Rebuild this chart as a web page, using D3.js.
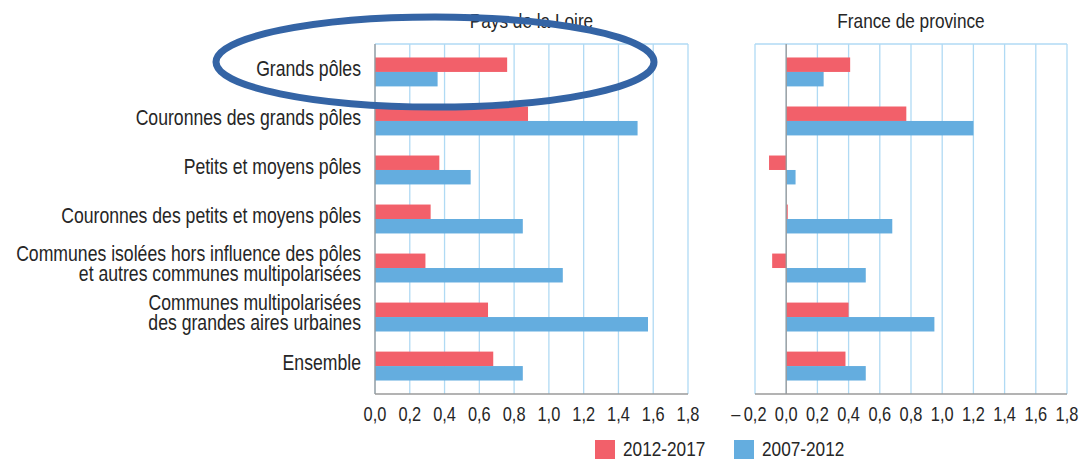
<!DOCTYPE html>
<html>
<head>
<meta charset="utf-8">
<script src="https://cdn.jsdelivr.net/npm/d3@7"></script>
<style>
  html, body { margin: 0; padding: 0; background: #ffffff; }
  svg { display: block; }
  text { font-family: "Liberation Sans", Arial, Helvetica, sans-serif; fill: #262626; }
</style>
</head>
<body>
<svg id="chart" width="1083" height="461"></svg>
<script>
// ---- Data ----
const categories = [
  "Grands pôles",
  "Couronnes des grands pôles",
  "Petits et moyens pôles",
  "Couronnes des petits et moyens pôles",
  "Communes isolées hors influence des pôles\net autres communes multipolarisées",
  "Communes multipolarisées\ndes grandes aires urbaines",
  "Ensemble"
];
const seriesNames = ["2012-2017", "2007-2012"];
const paysLoire2012_2017 = [0.76, 0.88, 0.37, 0.32, 0.29, 0.65, 0.68];
const paysLoire2007_2012 = [0.36, 1.51, 0.55, 0.85, 1.08, 1.57, 0.85];
const province2012_2017 = [0.41, 0.77, -0.11, 0.01, -0.09, 0.40, 0.38];
const province2007_2012 = [0.24, 1.20, 0.06, 0.68, 0.51, 0.95, 0.51];
const panelTitles = ["Pays de la Loire", "France de province"];
const leftTicks = [0, 0.2, 0.4, 0.6, 0.8, 1.0, 1.2, 1.4, 1.6, 1.8];
const rightTicks = [-0.2, 0, 0.2, 0.4, 0.6, 0.8, 1.0, 1.2, 1.4, 1.6, 1.8];

// ---- Styles ----
const colors = { "2012-2017": "#f2606a", "2007-2012": "#64addf" };
const gridColor = "#b0daf4";
const axisColor = "#9a9a9a";
const narrow = 0.82; // condensed look of the original typeface

const svg = d3.select("#chart");
const plotTop = 44, plotBottom = 394;

const y = d3.scaleBand().domain(categories).range([plotTop, plotBottom])
  .paddingInner(0.41).paddingOuter(0.275);
const ySub = d3.scaleBand().domain(seriesNames).range([0, y.bandwidth()]);

const fr = d3.formatLocale({ decimal: ",", thousands: " ", grouping: [3], currency: ["", "€"], minus: "–\u2009" });
const fmt = fr.format(".1f");

// lines: array of [text, dy] pairs
function label(parent, x, yy, lines, size, anchor) {
  const g = parent.append("g").attr("transform", `translate(${x},${yy}) scale(${narrow},1)`);
  const t = g.append("text").attr("font-size", size).attr("text-anchor", anchor);
  lines.forEach(([str, dy]) => {
    t.append("tspan").attr("x", 0).attr("y", dy).text(str);
  });
  return g;
}

function panel(x0, x1, domain, ticks, s1, s2, title) {
  const x = d3.scaleLinear().domain(domain).range([x0, x1]);
  const g = svg.append("g");
  // grid
  g.selectAll("line.grid").data(ticks).join("line")
    .attr("x1", d => x(d)).attr("x2", d => x(d))
    .attr("y1", plotTop).attr("y2", plotBottom)
    .attr("stroke", gridColor).attr("stroke-width", 1.3);
  // top border
  g.append("line").attr("x1", x0).attr("x2", x1).attr("y1", plotTop).attr("y2", plotTop)
    .attr("stroke", gridColor).attr("stroke-width", 1.3);
  // bars
  const rows = categories.map((c, i) => ({ c, vals: [s1[i], s2[i]] }));
  rows.forEach(r => {
    seriesNames.forEach((s, j) => {
      const v = r.vals[j];
      g.append("rect")
        .attr("x", x(Math.min(0, v)))
        .attr("y", y(r.c) + ySub(s))
        .attr("width", Math.abs(x(v) - x(0)))
        .attr("height", ySub.bandwidth())
        .attr("fill", colors[s]);
    });
  });
  // zero axis line
  g.append("line").attr("x1", x(0)).attr("x2", x(0)).attr("y1", plotTop).attr("y2", plotBottom)
    .attr("stroke", axisColor).attr("stroke-width", 1.3);
  // bottom axis line
  g.append("line").attr("x1", x0).attr("x2", x1).attr("y1", plotBottom).attr("y2", plotBottom)
    .attr("stroke", axisColor).attr("stroke-width", 1.3);
  // tick labels
  ticks.forEach(d => {
    label(g, d < 0 ? x(d) + 11.5 : x(d), 421, [[fmt(d), 0]], 20, d < 0 ? "end" : "middle");
  });
  // title
  label(svg, (x0 + x1) / 2, 28, [[title, 0]], 21, "middle");
  return x;
}

panel(375, 688, [0, 1.8], leftTicks, paysLoire2012_2017, paysLoire2007_2012, panelTitles[0]);
panel(755, 1067, [-0.2, 1.8], rightTicks, province2012_2017, province2007_2012, panelTitles[1]);

// category labels
categories.forEach(c => {
  const lines = c.split("\n");
  const cy = y(c) + y.bandwidth() / 2;
  if (lines.length === 1) {
    label(svg, 361, cy, [[lines[0], 4]], 21.5, "end");
  } else {
    label(svg, 361, cy, [[lines[0], -7.5], [lines[1], 13]], 21.5, "end");
  }
});

// legend
const legend = svg.append("g");
const legendX = [595, 734];
seriesNames.forEach((s, i) => {
  legend.append("rect").attr("x", legendX[i]).attr("y", 440).attr("width", 20).attr("height", 19)
    .attr("fill", colors[s]);
  label(legend, legendX[i] + 28, 456, [[s, 0]], 21, "start");
});

// annotation ellipse
svg.append("ellipse").attr("cx", 435).attr("cy", 62).attr("rx", 219).attr("ry", 45)
  .attr("fill", "none").attr("stroke", "#3464a5").attr("stroke-width", 7);
</script>
</body>
</html>
